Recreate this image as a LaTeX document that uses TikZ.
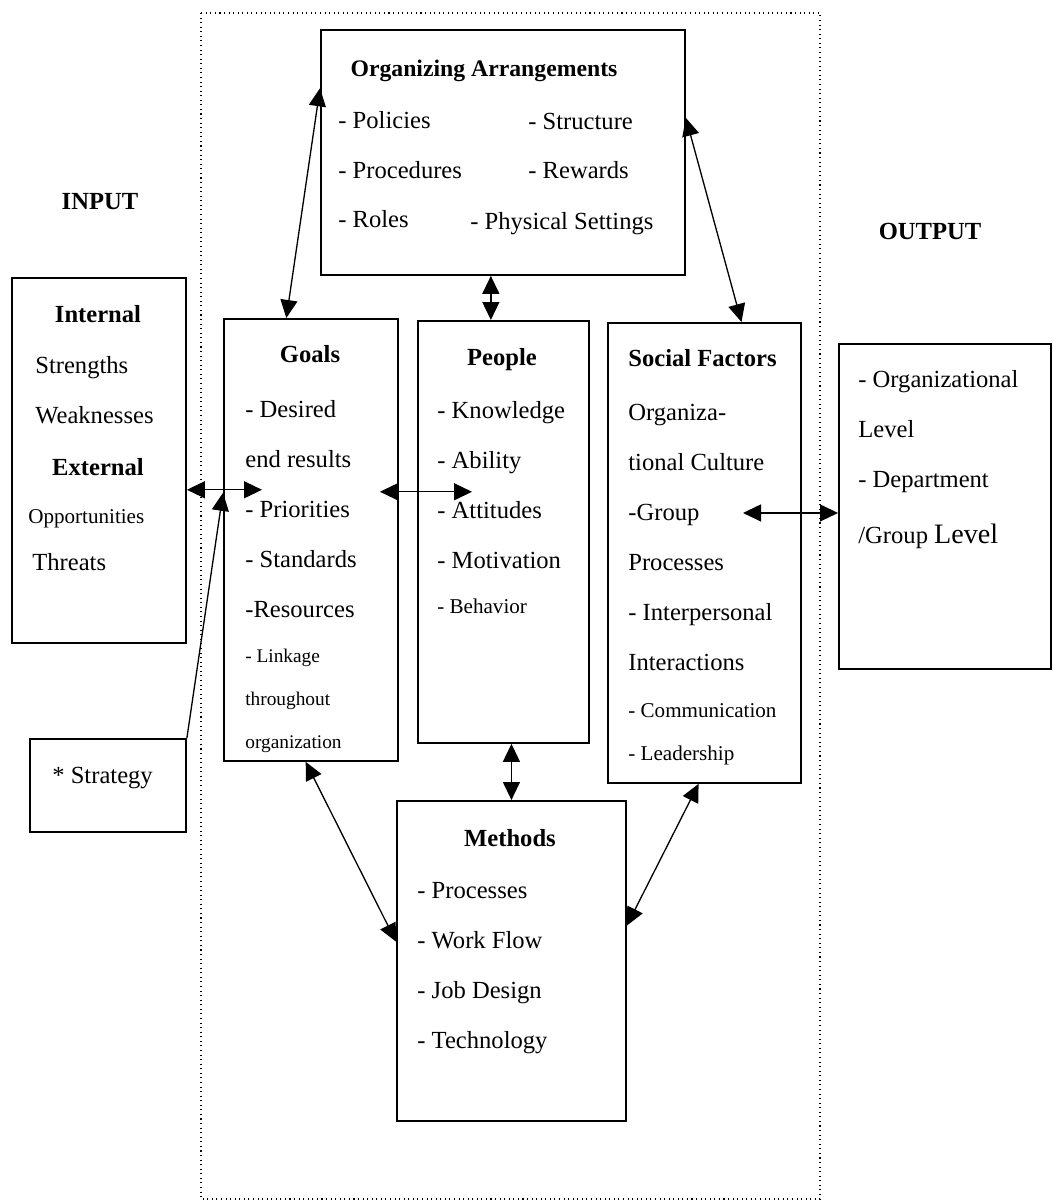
\documentclass[tikz,border=0pt]{standalone}
\usepackage{fontspec}
\setmainfont{Liberation Serif}
\usetikzlibrary{arrows.meta, calc}
\newcommand{\bodysize}{\fontsize{14}{28.45}\selectfont}
\newcommand{\smallsize}{\fontsize{12}{28.45}\selectfont}
\newcommand{\tinysize}{\fontsize{11}{28.45}\selectfont}

\begin{document}
\begin{tikzpicture}[
    x=0.02cm, y=-0.02cm,
    font=\bodysize,
    box/.style={rectangle, draw, line width=1.1pt, inner sep=0pt, anchor=north west},
    hd/.style={font=\bodysize\bfseries, anchor=base, inner sep=0pt},
    txt/.style={align=left, anchor=base west, inner sep=0pt},
    arr/.style={{Triangle[length=3.6mm, width=3.4mm]}-{Triangle[length=3.6mm, width=3.4mm]}, line width=0.75pt},
    one/.style={-{Triangle[length=3.6mm, width=3.4mm]}, line width=0.75pt},
    frame/.style={dotted, line width=0.6pt}
]
\useasboundingbox (0,0) rectangle (1053,1202);

% Organization boundary
\draw[frame] (201,13) rectangle (820,1199);

% Boxes
\node[box, minimum width=7.28cm, minimum height=4.90cm] (org) at (320,29) {};
\node[box, minimum width=3.48cm, minimum height=7.30cm] (input) at (11,277) {};
\node[box, minimum width=3.48cm, minimum height=8.84cm] (goals) at (223,318) {};
\node[box, minimum width=3.42cm, minimum height=8.44cm] (people) at (417,320) {};
\node[box, minimum width=3.86cm, minimum height=9.20cm] (social) at (607,322) {};
\node[box, minimum width=4.24cm, minimum height=6.50cm] (output) at (838,343) {};
\node[box, minimum width=3.12cm, minimum height=1.86cm] (strategy) at (29,738) {};
\node[box, minimum width=4.58cm, minimum height=6.40cm] (methods) at (396,800) {};

% Side headings
\node[hd] (inhd) at (100,210) {INPUT};
\node[hd] (outhd) at (930,240) {OUTPUT};

% Organizing arrangements (text nodes sit on their last baseline)
\node[hd, font=\fontsize{13.5}{28.45}\selectfont\bfseries] (orghd) at (484,77) {Organizing Arrangements};
\node[txt] (orgL) at (338,228) {- Policies\\- Procedures\\- Roles};
\node[txt] (orgR) at (528,179) {- Structure\\- Rewards};
\node[txt] (orgP) at (470,230) {- Physical Settings};

% Input
\node[hd] (inthd) at (98,323) {Internal};
\node[txt] (intT) at (35,423) {Strengths\\Weaknesses};
\node[hd] (exthd) at (98,475) {External};
\node[txt, font=\smallsize] (extO) at (28,523) {Opportunities};
\node[txt] (extT) at (32,570) {Threats};

% Goals
\node[hd] (goalshd) at (310,362) {Goals};
\node[txt] (goalsT) at (245,748) {- Desired\\end results\\- Priorities\\- Standards\\-Resources\\[-3pt]
  {\tinysize - Linkage}\\[-4pt]{\tinysize throughout}\\[-4pt]{\tinysize organization}};

% People
\node[hd] (peoplehd) at (502,365) {People};
\node[txt] (peopleT) at (437,613) {- Knowledge\\- Ability\\- Attitudes\\- Motivation\\[-3pt]{\smallsize - Behavior}};

% Social factors
\node[hd, anchor=base west] (socialhd) at (628,367) {Social Factors};
\node[txt] (socialT) at (628,760) {Organiza-\\tional Culture\\-Group\\Processes\\- Interpersonal\\Interactions\\[-2pt]
  {\smallsize - Communication}\\[-4pt]{\smallsize - Leadership}};

% Output
\node[txt] (outT) at (858,543) {- Organizational\\Level\\- Department\\[3pt]/Group {\fontsize{16}{28.45}\selectfont Level}};

% Strategy
\node[txt] (stratT) at (52,783) {* Strategy};

% Methods
\node[hd] (methodshd) at (510,846) {Methods};
\node[txt] (methodsT) at (417,1048) {- Processes\\- Work Flow\\- Job Design\\- Technology};

% Attachment points
\coordinate (inBus) at ($(input.north east)!0.58!(input.south east)$);
\coordinate (outBus) at ($(output.north west)!0.52!(output.south west)$);
\coordinate (opBus) at ($(org.south west)!0.467!(org.south east)$);

% Connectors
\draw[arr] ($(org.north west)!0.24!(org.south west)$) -- ($(goals.north west)!0.36!(goals.north east)$);
\draw[arr] ($(org.north east)!0.36!(org.south east)$) -- ($(social.north west)!0.69!(social.north east)$);
\draw[arr] (opBus) -- (opBus |- people.north);
\draw[arr] (inBus) -- ($(goals.west |- inBus)+(39,0)$);
\draw[one] (strategy.north east) -- ($(goals.west |- inBus)+(0,3)$);
\draw[arr] ($(goals.east |- inBus)+(-19,2)$) -- ($(people.west |- inBus)+(55,2)$);
\draw[arr] ($(social.west |- outBus)+(136,0)$) -- (outBus);
\draw[arr] (methods.north |- people.south) -- (methods.north);
\draw[arr] ($(goals.south west)!0.47!(goals.south east)$) -- ($(methods.north west)!0.44!(methods.south west)$);
\draw[arr] ($(social.south west)!0.47!(social.south east)$) -- ($(methods.north east)!0.39!(methods.south east)$);
\end{tikzpicture}
\end{document}
